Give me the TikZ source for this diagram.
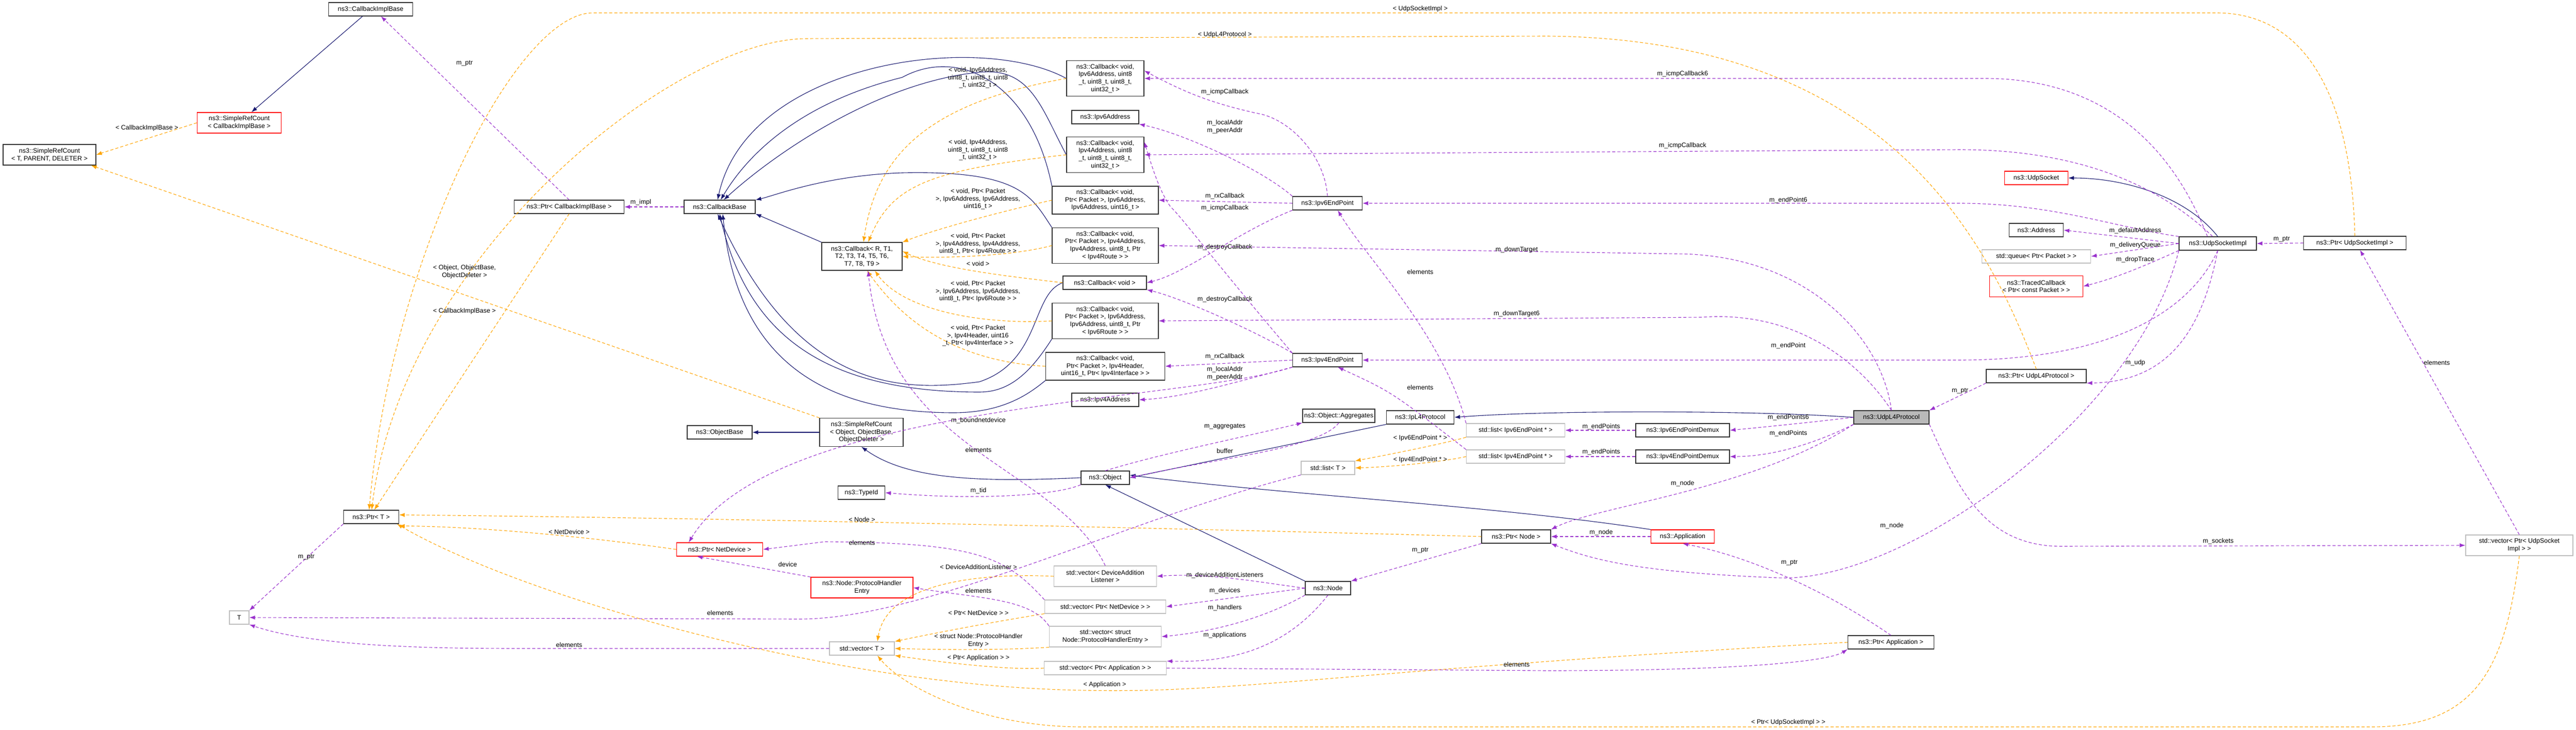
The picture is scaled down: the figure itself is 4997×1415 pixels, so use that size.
\documentclass[tikz,border=0pt]{standalone}
\usepackage{fontspec}
\setmainfont{Liberation Sans}
\usetikzlibrary{arrows.meta}
\definecolor{navyc}{HTML}{191970}
\definecolor{purp}{HTML}{9A32CD}
\definecolor{orng}{HTML}{FFA500}
\definecolor{grayb}{HTML}{BFBFBF}
\tikzset{
 cls/.style={draw=black!80,fill=white,line width=1.2pt,font=\fontsize{12.5}{14.7}\selectfont,align=center,inner sep=2pt,minimum height=26pt},
 redb/.style={cls,draw=red},
 grayc/.style={cls,draw=grayb},
 mainc/.style={cls,fill=gray!55},
 lbl/.style={font=\fontsize{12.5}{14.7}\selectfont,align=center,inner sep=0pt},
 tip/.style={-{Latex[length=11pt,width=8pt]}},
 inh/.style={tip,draw=navyc,line width=1.1pt},
 use/.style={tip,draw=purp,line width=1.1pt,dash pattern=on 6pt off 4pt},
 tpl/.style={tip,draw=orng,line width=1.1pt,dash pattern=on 6pt off 4pt},
}
\begin{document}
\begin{tikzpicture}[x=1pt,y=-1pt]
\useasboundingbox[fill=white] (0,0) rectangle (4997,1415);
% nodes
\node[cls,minimum width=163] (cib) at (719,18) {ns3::CallbackImplBase};
\node[redb,minimum width=163,minimum height=40] (srcCIB) at (464,238) {ns3::SimpleRefCount\\\textless{} CallbackImplBase \textgreater};
\node[cls,minimum width=180,minimum height=40] (srcT) at (96,300) {ns3::SimpleRefCount\\\textless{} T, PARENT, DELETER \textgreater};
\node[cls,minimum width=213] (ptrCIB) at (1104,401) {ns3::Ptr\textless{} CallbackImplBase \textgreater};
\node[cls,minimum width=138] (cbBase) at (1396,401) {ns3::CallbackBase};
\node[cls,minimum width=156,minimum height=54] (cbR) at (1672,497) {ns3::Callback\textless{} R, T1,\\T2, T3, T4, T5, T6,\\T7, T8, T9 \textgreater};
\node[cls,minimum width=150,minimum height=69] (cb6i) at (2144,152) {ns3::Callback\textless{} void,\\Ipv6Address, uint8\\\_t, uint8\_t, uint8\_t,\\uint32\_t \textgreater};
\node[cls,minimum width=130] (ip6a) at (2144,227) {ns3::Ipv6Address};
\node[cls,minimum width=150,minimum height=69] (cb4i) at (2144,300) {ns3::Callback\textless{} void,\\Ipv4Address, uint8\\\_t, uint8\_t, uint8\_t,\\uint32\_t \textgreater};
\node[cls,minimum width=206,minimum height=54] (cbrx6) at (2144,388) {ns3::Callback\textless{} void,\\Ptr\textless{} Packet \textgreater, Ipv6Address,\\Ipv6Address, uint16\_t \textgreater};
\node[cls,minimum width=206,minimum height=69] (cbd4) at (2144,476) {ns3::Callback\textless{} void,\\Ptr\textless{} Packet \textgreater, Ipv4Address,\\Ipv4Address, uint8\_t, Ptr\\\textless{} Ipv4Route \textgreater{} \textgreater};
\node[cls,minimum width=162] (cbv) at (2143,548) {ns3::Callback\textless{} void \textgreater};
\node[cls,minimum width=206,minimum height=69] (cbd6) at (2144,622) {ns3::Callback\textless{} void,\\Ptr\textless{} Packet \textgreater, Ipv6Address,\\Ipv6Address, uint8\_t, Ptr\\\textless{} Ipv6Route \textgreater{} \textgreater};
\node[cls,minimum width=231,minimum height=54] (cbrx4) at (2144,710) {ns3::Callback\textless{} void,\\Ptr\textless{} Packet \textgreater, Ipv4Header,\\uint16\_t, Ptr\textless{} Ipv4Interface \textgreater{} \textgreater};
\node[cls,minimum width=130] (ip4a) at (2144,775) {ns3::Ipv4Address};
\node[cls,minimum width=135] (ep6) at (2575,394) {ns3::Ipv6EndPoint};
\node[cls,minimum width=135] (ep4) at (2575,698) {ns3::Ipv4EndPoint};
\node[redb,minimum width=123] (usock) at (3950,345) {ns3::UdpSocket};
\node[cls,minimum width=105] (addr) at (3950,446) {ns3::Address};
\node[grayc,minimum width=211] (queue) at (3950,497) {std::queue\textless{} Ptr\textless{} Packet \textgreater{} \textgreater};
\node[redb,minimum width=181,minimum height=41] (traced) at (3950,555) {ns3::TracedCallback\\\textless{} Ptr\textless{} const Packet \textgreater{} \textgreater};
\node[cls,minimum width=150] (usi) at (4302,472) {ns3::UdpSocketImpl};
\node[cls,minimum width=199] (ptrUSI) at (4568,471) {ns3::Ptr\textless{} UdpSocketImpl \textgreater};
\node[cls,minimum width=194] (ptrUdp) at (3950,729) {ns3::Ptr\textless{} UdpL4Protocol \textgreater};
\node[grayc,minimum width=208,minimum height=40] (vUSI) at (4887,1057) {std::vector\textless{} Ptr\textless{} UdpSocket\\Impl \textgreater{} \textgreater};
\node[cls,minimum width=107] (ptrT) at (720,1002) {ns3::Ptr\textless{} T \textgreater};
\node[grayc,minimum width=38] (T) at (464,1197) {T};
\node[cls,minimum width=162,minimum height=55] (srcObj) at (1671,838) {ns3::SimpleRefCount\\\textless{} Object, ObjectBase,\\ObjectDeleter \textgreater};
\node[cls,minimum width=126] (objBase) at (1396,838) {ns3::ObjectBase};
\node[cls,minimum width=91] (typeid) at (1671,955) {ns3::TypeId};
\node[cls,minimum width=94] (obj) at (2144,926) {ns3::Object};
\node[redb,minimum width=167] (ptrND) at (1396,1065) {ns3::Ptr\textless{} NetDevice \textgreater};
\node[redb,minimum width=198,minimum height=40] (phe) at (1672,1139) {ns3::Node::ProtocolHandler\\Entry};
\node[grayc,minimum width=199,minimum height=40] (vDAL) at (2144,1117) {std::vector\textless{} DeviceAddition\\Listener \textgreater};
\node[grayc,minimum width=235] (vPND) at (2144,1176) {std::vector\textless{} Ptr\textless{} NetDevice \textgreater{} \textgreater};
\node[grayc,minimum width=217,minimum height=40] (vPHE) at (2144,1234) {std::vector\textless{} struct\\Node::ProtocolHandlerEntry \textgreater};
\node[grayc,minimum width=126] (vecT) at (1672,1257) {std::vector\textless{} T \textgreater};
\node[grayc,minimum width=237] (vPApp) at (2144,1295) {std::vector\textless{} Ptr\textless{} Application \textgreater{} \textgreater};
\node[cls,minimum width=140] (aggr) at (2597,806) {ns3::Object::Aggregates};
\node[cls,minimum width=131] (ipl4) at (2755,809) {ns3::IpL4Protocol};
\node[mainc,minimum width=146] (udp) at (3669,809) {ns3::UdpL4Protocol};
\node[grayc,minimum width=191] (list6) at (2940,834) {std::list\textless{} Ipv6EndPoint * \textgreater};
\node[grayc,minimum width=191] (list4) at (2940,885) {std::list\textless{} Ipv4EndPoint * \textgreater};
\node[cls,minimum width=182] (dmx6) at (3264,834) {ns3::Ipv6EndPointDemux};
\node[cls,minimum width=182] (dmx4) at (3264,885) {ns3::Ipv4EndPointDemux};
\node[grayc,minimum width=104] (listT) at (2576,907) {std::list\textless{} T \textgreater};
\node[cls,minimum width=134] (ptrNode) at (2941,1040) {ns3::Ptr\textless{} Node \textgreater};
\node[redb,minimum width=123] (app) at (3264,1040) {ns3::Application};
\node[cls,minimum width=88] (node) at (2576,1140) {ns3::Node};
\node[cls,minimum width=167] (ptrApp) at (3668,1245) {ns3::Ptr\textless{} Application \textgreater};
% inheritance
\draw[inh] (cib) -- (srcCIB);
\draw[inh] (srcObj) -- (objBase);
\draw[inh] (obj.west) .. controls (1900,935) and (1760,930) .. (srcObj.south);
\draw[inh] (ipl4.south west) -- (obj.east);
\draw[inh] (node.north west) -- (obj.south);
\draw[inh] (app.north west) .. controls (2900,980) and (2500,960) .. ([yshift=5]obj.east);
\draw[inh] (udp.west) .. controls (3400,795) and (3000,795) .. (ipl4.east);
\draw[inh] (usi.north) .. controls (4240,380) and (4120,345) .. (usock.east);
\draw[inh] (cb6i.west) .. controls (1900,60) and (1450,120) .. ([xshift=-4]cbBase.north);
\draw[inh] (cbrx6.north west) .. controls (2000,160) and (1860,90) .. (1750,150) .. controls (1550,200) and (1450,300) .. ([xshift=2]cbBase.north);
\draw[inh] (cb4i.west) .. controls (2020,210) and (2000,130) .. (1900,140) .. controls (1700,160) and (1500,300) .. ([xshift=8]cbBase.north);
\draw[inh] (cbd4.north west) .. controls (2000,380) and (1980,330) .. (1750,335) .. controls (1600,340) and (1500,380) .. (cbBase.north east);
\draw[inh] (cbR.north west) -- (cbBase.south east);
\draw[inh] (cbv.west) .. controls (2000,570) and (2020,700) .. (1900,740) .. controls (1750,760) and (1550,760) .. ([xshift=-4]cbBase.south);
\draw[inh] (cbd6.south west) .. controls (2000,720) and (1960,760) .. (1900,760) .. controls (1600,760) and (1450,650) .. (cbBase.south);
\draw[inh] (cbrx4.south west) .. controls (2000,760) and (1950,800) .. (1850,800) .. controls (1600,800) and (1430,700) .. ([xshift=6]cbBase.south);
% template
\draw[tpl] (srcCIB.west) -- (srcT.east);
\draw[tpl] (srcObj.north west) -- ([xshift=-10]srcT.south east);
\draw[tpl] (ptrCIB.south) -- ([xshift=6]ptrT.north);
\draw[tpl] (ptrUSI.north) .. controls (4560,150) and (4450,25) .. (4300,25) -- (1150,25) .. controls (1000,25) and (760,500) .. ([xshift=-4]ptrT.north);
\draw[tpl] (ptrUdp.north) .. controls (3850,450) and (3650,75) .. (3000,70) -- (1560,75) .. controls (1300,80) and (780,500) .. ([xshift=1]ptrT.north);
\draw[tpl] (ptrND.west) .. controls (1100,1035) and (900,1020) .. ([yshift=-4]ptrT.south east);
\draw[tpl] (ptrNode.west) .. controls (2500,1030) and (1500,1005) .. ([yshift=4]ptrT.east);
\draw[tpl] (ptrApp.west) .. controls (2600,1300) and (2400,1345) .. (2100,1338) .. controls (1600,1330) and (1000,1150) .. ([xshift=50]ptrT.south);
\draw[tpl] (vDAL.west) .. controls (1900,1110) and (1720,1130) .. ([xshift=30]vecT.north);
\draw[tpl] (vPND.south west) .. controls (1900,1210) and (1800,1230) .. (vecT.north east);
\draw[tpl] (vPHE.south west) .. controls (1950,1260) and (1850,1260) .. (vecT.east);
\draw[tpl] (vPApp.west) .. controls (1950,1300) and (1800,1280) .. (vecT.south east);
\draw[tpl] (vUSI.south) .. controls (4860,1300) and (4800,1409) .. (4600,1409) -- (2100,1409) .. controls (1900,1409) and (1750,1330) .. ([xshift=30]vecT.south);
\draw[tpl] (list6.south west) .. controls (2800,860) and (2700,880) .. (listT.north east);
\draw[tpl] (list4.west) .. controls (2800,895) and (2700,905) .. (listT.east);
\draw[tpl] (cb6i.west) .. controls (1800,200) and (1700,300) .. ([xshift=3]cbR.north);
\draw[tpl] (cb4i.west) .. controls (1800,330) and (1730,360) .. ([xshift=12]cbR.north);
\draw[tpl] (cbrx6.west) .. controls (1900,420) and (1800,450) .. (cbR.north east);
\draw[tpl] (cbd4.west) .. controls (1950,500) and (1800,500) .. (cbR.east);
\draw[tpl] (cbv.west) .. controls (1950,535) and (1820,520) .. ([yshift=10]cbR.east);
\draw[tpl] (cbd6.west) .. controls (1900,630) and (1750,600) .. ([xshift=25]cbR.south);
\draw[tpl] (cbrx4.west) .. controls (1850,700) and (1750,620) .. ([xshift=10]cbR.south);
% usage
\draw[use] (ptrCIB.north) -- ([xshift=20]cib.south);
\draw[use] (cbBase.west) -- (ptrCIB.east);
\draw[use] (ptrT.south west) -- (T.north east);
\draw[use] (listT.south west) .. controls (2200,1000) and (1800,1200) .. (1550,1200) -- (T.east);
\draw[use] (vecT.west) -- (1000,1257) .. controls (800,1257) and (600,1250) .. (T.south east);
\draw[use] (vPND.north west) .. controls (1950,1080) and (1900,1052) .. (1600,1050) -- (ptrND.east);
\draw[use] (phe.north west) -- ([xshift=40]ptrND.south west);
\draw[use] (ep4.south west) .. controls (2300,780) and (1500,780) .. ([xshift=-60]ptrND.north);
\draw[use] (vPHE.north west) .. controls (2000,1160) and (1900,1160) .. (phe.east);
\draw[use] (vDAL.north) .. controls (2050,900) and (1720,880) .. ([xshift=12]cbR.south);
\draw[use] (node.west) .. controls (2450,1130) and (2350,1110) .. (vDAL.east);
\draw[use] (node.west) -- (vPND.east);
\draw[use] (node.south west) .. controls (2450,1200) and (2350,1225) .. (vPHE.east);
\draw[use] (node.south) .. controls (2500,1250) and (2400,1285) .. (vPApp.north east);
\draw[use] (vPApp.east) -- (3000,1300) .. controls (3400,1300) and (3550,1280) .. (ptrApp.south west);
\draw[use] (ptrApp.north) .. controls (3550,1150) and (3400,1080) .. (app.south);
\draw[use] (app.west) -- (ptrNode.east);
\draw[use] (udp.south west) .. controls (3400,950) and (3100,980) .. (ptrNode.north east);
\draw[use] (usi.south west) .. controls (4150,800) and (3700,1130) .. (3450,1120) .. controls (3200,1110) and (3100,1090) .. (ptrNode.south east);
\draw[use] (ptrNode.south west) -- (node.north east);
\draw[use] (obj.south west) .. controls (2050,960) and (1900,970) .. (typeid.east);
\draw[use] (obj.north) .. controls (2250,880) and (2400,850) .. (aggr.south west);
\draw[use] (aggr.south) .. controls (2560,870) and (2350,890) .. (obj.east);
\draw[use] (list6.north west) .. controls (2800,650) and (2650,500) .. ([xshift=20]ep6.south);
\draw[use] (list4.north west) .. controls (2700,760) and (2700,760) .. ([xshift=20]ep4.south);
\draw[use] (dmx6.west) -- (list6.east);
\draw[use] (dmx4.west) -- (list4.east);
\draw[use] (udp.west) .. controls (3500,820) and (3400,830) .. (dmx6.east);
\draw[use] (udp.south west) .. controls (3500,870) and (3420,885) .. (dmx4.east);
\draw[use] (usi.north west) .. controls (4100,440) and (3980,394) .. (3800,394) -- (ep6.east);
\draw[use] (usi.south) .. controls (4250,600) and (4100,698) .. (3800,698) -- (ep4.east);
\draw[use] ([xshift=-20]usi.north) .. controls (4200,250) and (4050,152) .. (3850,152) -- (cb6i.east);
\draw[use] ([xshift=-10]usi.north) .. controls (4200,370) and (4050,290) .. (3800,290) -- (cb4i.east);
\draw[use] (ep6.north) .. controls (2570,300) and (2500,230) .. (2440,220) .. controls (2350,200) and (2300,180) .. ([yshift=15]cb6i.east);
\draw[use] (ep6.north west) .. controls (2450,330) and (2300,260) .. (ip6a.south east);
\draw[use] (ep6.west) -- (cbrx6.east);
\draw[use] (ep6.south west) .. controls (2400,450) and (2300,530) .. (cbv.east);
\draw[use] (ep4.north west) .. controls (2350,500) and (2300,430) .. (2270,400) .. controls (2250,370) and (2240,340) .. ([yshift=25]cb4i.east);
\draw[use] (ep4.south west) .. controls (2400,740) and (2300,770) .. (ip4a.east);
\draw[use] (ep4.west) -- (cbrx4.east);
\draw[use] (ep4.north west) .. controls (2450,650) and (2300,580) .. (cbv.south east);
\draw[use] (udp.north) .. controls (3650,650) and (3500,492) .. (3250,492) -- (cbd4.east);
\draw[use] (udp.north) .. controls (3620,720) and (3500,600) .. (3300,615) -- (cbd6.east);
\draw[use] (usi.west) -- (addr.east);
\draw[use] (usi.west) -- (queue.east);
\draw[use] (usi.south west) .. controls (4150,520) and (4100,540) .. (traced.east);
\draw[use] (ptrUSI.west) -- (usi.east);
\draw[use] (usi.south) .. controls (4270,650) and (4200,740) .. (ptrUdp.south east);
\draw[use] (ptrUdp.south west) -- (udp.north east);
\draw[use] (udp.south east) .. controls (3800,950) and (3850,1059) .. (4000,1059) -- (vUSI.west);
\draw[use] (vUSI.north) -- ([xshift=10]ptrUSI.south);
% labels
\node[lbl] at (285,248) {\textless{} CallbackImplBase \textgreater};
\node[lbl] at (901,123) {m\_ptr};
\node[lbl] at (901,527) {\textless{} Object, ObjectBase,\\ObjectDeleter \textgreater};
\node[lbl] at (901,603) {\textless{} CallbackImplBase \textgreater};
\node[lbl] at (1243,392) {m\_impl};
\node[lbl] at (2376,67) {\textless{} UdpL4Protocol \textgreater};
\node[lbl] at (2755,17) {\textless{} UdpSocketImpl \textgreater};
\node[lbl] at (1897,151) {\textless{} void, Ipv6Address,\\uint8\_t, uint8\_t, uint8\\\_t, uint32\_t \textgreater};
\node[lbl] at (1897,291) {\textless{} void, Ipv4Address,\\uint8\_t, uint8\_t, uint8\\\_t, uint32\_t \textgreater};
\node[lbl] at (1897,386) {\textless{} void, Ptr\textless{} Packet\\\textgreater, Ipv6Address, Ipv6Address,\\uint16\_t \textgreater};
\node[lbl] at (1897,473) {\textless{} void, Ptr\textless{} Packet\\\textgreater, Ipv4Address, Ipv4Address,\\uint8\_t, Ptr\textless{} Ipv4Route \textgreater{} \textgreater};
\node[lbl] at (1897,511) {\textless{} void \textgreater};
\node[lbl] at (1897,565) {\textless{} void, Ptr\textless{} Packet\\\textgreater, Ipv6Address, Ipv6Address,\\uint8\_t, Ptr\textless{} Ipv6Route \textgreater{} \textgreater};
\node[lbl] at (1897,651) {\textless{} void, Ptr\textless{} Packet\\\textgreater, Ipv4Header, uint16\\\_t, Ptr\textless{} Ipv4Interface \textgreater{} \textgreater};
\node[lbl] at (2376,178) {m\_icmpCallback};
\node[lbl] at (2376,246) {m\_localAddr\\m\_peerAddr};
\node[lbl] at (2376,380) {m\_rxCallback};
\node[lbl] at (2376,403) {m\_icmpCallback};
\node[lbl] at (2376,479) {m\_destroyCallback};
\node[lbl] at (2376,580) {m\_destroyCallback};
\node[lbl] at (2376,691) {m\_rxCallback};
\node[lbl] at (2376,724) {m\_localAddr\\m\_peerAddr};
\node[lbl] at (3264,143) {m\_icmpCallback6};
\node[lbl] at (3264,282) {m\_icmpCallback};
\node[lbl] at (3469,388) {m\_endPoint6};
\node[lbl] at (2942,484) {m\_downTarget};
\node[lbl] at (2755,527) {elements};
\node[lbl] at (2942,608) {m\_downTarget6};
\node[lbl] at (3469,670) {m\_endPoint};
\node[lbl] at (4142,447) {m\_defaultAddress};
\node[lbl] at (4142,475) {m\_deliveryQueue};
\node[lbl] at (4142,503) {m\_dropTrace};
\node[lbl] at (4426,464) {m\_ptr};
\node[lbl] at (4142,703) {m\_udp};
\node[lbl] at (4727,703) {elements};
\node[lbl] at (1104,1031) {\textless{} NetDevice \textgreater};
\node[lbl] at (594,1080) {m\_ptr};
\node[lbl] at (1104,1250) {elements};
\node[lbl] at (1898,815) {m\_boundnetdevice};
\node[lbl] at (2376,827) {m\_aggregates};
\node[lbl] at (2376,874) {buffer};
\node[lbl] at (1898,872) {elements};
\node[lbl] at (1898,951) {m\_tid};
\node[lbl] at (1672,1007) {\textless{} Node \textgreater};
\node[lbl] at (1672,1052) {elements};
\node[lbl] at (1528,1094) {device};
\node[lbl] at (1898,1099) {\textless{} DeviceAdditionListener \textgreater};
\node[lbl] at (2376,1115) {m\_deviceAdditionListeners};
\node[lbl] at (1898,1145) {elements};
\node[lbl] at (2376,1145) {m\_devices};
\node[lbl] at (1397,1188) {elements};
\node[lbl] at (1898,1188) {\textless{} Ptr\textless{} NetDevice \textgreater{} \textgreater};
\node[lbl] at (2376,1178) {m\_handlers};
\node[lbl] at (1898,1242) {\textless{} struct Node::ProtocolHandler\\Entry \textgreater};
\node[lbl] at (2376,1231) {m\_applications};
\node[lbl] at (1898,1275) {\textless{} Ptr\textless{} Application \textgreater{} \textgreater};
\node[lbl] at (2143,1327) {\textless{} Application \textgreater};
\node[lbl] at (2755,751) {elements};
\node[lbl] at (3469,809) {m\_endPoints6};
\node[lbl] at (3106,827) {m\_endPoints};
\node[lbl] at (2755,849) {\textless{} Ipv6EndPoint * \textgreater};
\node[lbl] at (3469,840) {m\_endPoints};
\node[lbl] at (3106,876) {m\_endPoints};
\node[lbl] at (2755,891) {\textless{} Ipv4EndPoint * \textgreater};
\node[lbl] at (3264,937) {m\_node};
\node[lbl] at (3106,1032) {m\_node};
\node[lbl] at (2755,1067) {m\_ptr};
\node[lbl] at (3670,1019) {m\_node};
\node[lbl] at (3471,1091) {m\_ptr};
\node[lbl] at (2942,1288) {elements};
\node[lbl] at (3469,1400) {\textless{} Ptr\textless{} UdpSocketImpl \textgreater{} \textgreater};
\node[lbl] at (3802,758) {m\_ptr};
\node[lbl] at (4303,1049) {m\_sockets};
\end{tikzpicture}
\end{document}
